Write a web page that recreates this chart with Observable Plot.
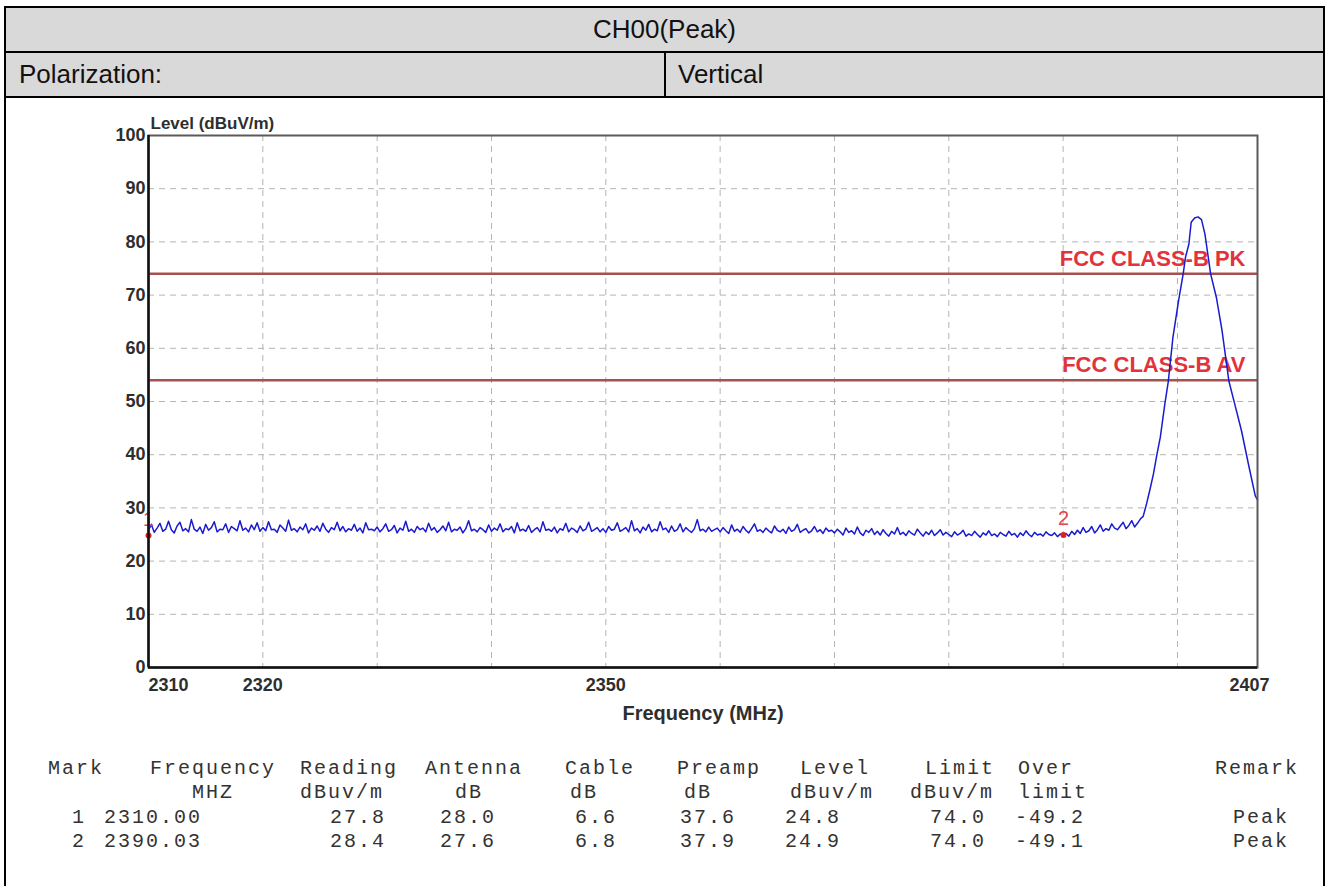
<!DOCTYPE html>
<html><head><meta charset="utf-8">
<script src="https://cdn.jsdelivr.net/npm/d3@7"></script>
<script src="https://cdn.jsdelivr.net/npm/@observablehq/plot@0.6"></script>
<style>
body{margin:0;background:#fff;font-family:"Liberation Sans",Arial,sans-serif;}
#box{position:absolute;left:4px;top:6px;width:1321px;height:900px;border:2px solid #000;box-sizing:border-box;}
.row{position:absolute;left:0;right:0;background:#d9d9d9;border-bottom:2px solid #000;box-sizing:border-box;font-size:26px;color:#111;}
#r1{top:0;height:45px;display:flex;align-items:center;justify-content:center;}
#r2{top:45px;height:45px;}
#r2 .c1{position:absolute;left:0;top:0;bottom:0;width:660px;border-right:2px solid #000;display:flex;align-items:center;padding-left:13px;box-sizing:border-box;}
#r2 .c2{position:absolute;left:672px;top:0;bottom:0;display:flex;align-items:center;}
#chart{position:absolute;left:0;top:97px;}
.cell{position:absolute;font-family:"Liberation Mono","Courier New",monospace;font-size:20px;letter-spacing:2px;color:#333;white-space:pre;line-height:20px;}
</style>
</head><body>
<div id="box">
  <div class="row" id="r1"></div>
  <div class="row" id="r2"><div class="c1"></div><div class="c2"></div></div>
</div>
<div id="chart"></div>
<div id="table"></div>
<script>
// ---- header texts ----
const titleText = "CH00(Peak)";
const polLabel = "Polarization:";
const polValue = "Vertical";

// ---- axes ----
const xDomain = [2310, 2407];
const yDomain = [0, 100];
const xTickLabels = [2310, 2320, 2350, 2407];
const yTickLabels = [0, 10, 20, 30, 40, 50, 60, 70, 80, 90, 100];
const gridFreqs = [2320, 2330, 2340, 2350, 2360, 2370, 2380, 2390, 2400];
const gridLevels = [10, 20, 30, 40, 50, 60, 70, 80, 90];
const xAxisLabel = "Frequency (MHz)";
const yAxisLabel = "Level (dBuV/m)";

// ---- limit lines ----
const limitLevels = [74, 54];
const limitLabels = ["FCC CLASS-B PK", "FCC CLASS-B AV"];

// ---- trace: noise floor, 0.25 MHz steps from 2310.00 to 2397.00 ----
const noiseStart = 2310;
const noiseStep = 0.25;
const noiseLevels = [
  // 2310-2320
  25.8, 26.9, 25.4, 26.2, 27.1, 25.6, 26.0, 27.5, 25.9, 25.3, 26.6, 27.3, 25.7, 26.1, 25.5, 27.8, 26.0, 25.6, 26.4, 25.2,
  26.9, 25.8, 26.3, 27.4, 25.5, 26.0, 25.9, 27.0, 25.4, 26.5, 26.1, 25.7, 27.6, 25.8, 26.2, 25.5, 26.8, 25.9, 27.2, 25.6,
  // 2320-2330
  26.3, 25.7, 27.4, 25.9, 26.0, 25.4, 26.8, 26.2, 25.6, 27.7, 25.8, 26.1, 25.5, 26.4, 25.9, 27.0, 25.3, 26.2, 25.8, 26.6,
  25.6, 27.1, 26.0, 25.4, 26.3, 25.9, 27.3, 25.7, 26.5, 25.5, 26.1, 25.8, 26.9, 25.6, 26.2, 25.3, 27.2, 25.9, 26.0, 25.7,
  // 2330-2340
  26.4, 25.5, 26.1, 27.0, 25.6, 25.9, 26.7, 25.3, 26.2, 25.8, 27.5, 25.6, 26.0, 25.4, 26.5, 25.9, 26.2, 25.5, 27.1, 25.8,
  26.3, 25.4, 25.9, 26.6, 25.7, 27.3, 25.5, 26.0, 25.8, 26.4, 25.3, 26.1, 27.6, 25.7, 26.0, 25.5, 26.3, 25.9, 25.4, 26.8,
  // 2340-2350
  25.6, 26.2, 25.8, 27.0, 25.5, 26.1, 25.9, 26.5, 25.3, 27.2, 25.7, 26.0, 25.6, 26.7, 25.4, 25.9, 26.3, 25.5, 27.4, 25.8,
  26.0, 25.6, 26.4, 25.3, 26.1, 25.8, 27.1, 25.5, 26.2, 25.9, 25.4, 26.6, 25.7, 26.0, 27.3, 25.6, 25.9, 26.3, 25.5, 26.1,
  // 2350-2360
  25.4, 26.5, 25.8, 26.0, 27.2, 25.6, 25.9, 26.3, 25.5, 27.6, 25.7, 26.1, 25.3, 26.4, 25.8, 26.9, 25.5, 26.0, 25.7, 27.4,
  25.9, 26.2, 25.4, 26.6, 25.6, 25.9, 27.0, 25.5, 26.3, 25.8, 25.4, 26.1, 27.8, 25.7, 26.0, 25.5, 26.4, 25.6, 25.9, 26.2,
  // 2360-2370
  25.5, 26.3, 25.7, 25.2, 26.8, 25.6, 26.0, 25.4, 26.5, 25.8, 25.3, 26.1, 27.0, 25.6, 25.9, 25.4, 26.2, 25.7, 25.3, 26.6,
  25.8, 25.5, 26.0, 25.2, 26.4, 25.6, 25.9, 26.9, 25.4, 25.8, 26.1, 25.3, 25.7, 26.5, 25.5, 25.9, 25.2, 26.2, 25.6, 25.8,
  // 2370-2380
  25.3, 26.0, 25.5, 24.9, 26.2, 25.4, 25.7, 25.1, 26.4, 25.3, 24.8, 25.8, 25.4, 26.1, 25.0, 25.6, 24.9, 25.9, 25.2, 24.7,
  25.6, 25.1, 26.3, 25.0, 25.4, 24.8, 25.7, 25.2, 24.9, 26.0, 25.3, 24.7, 25.5, 25.0, 25.8, 24.8, 25.3, 25.9, 24.9, 25.4,
  // 2380-2390
  25.0, 24.6, 25.5, 24.9, 25.2, 25.8, 24.7, 25.1, 24.8, 25.6, 25.0, 24.5, 25.3, 24.9, 25.7, 24.8, 25.1, 24.6, 25.4, 25.0,
  24.7, 25.6, 24.9, 25.2, 24.5, 25.3, 24.8, 25.7, 25.0, 24.6, 25.4, 24.9, 25.1, 24.7, 25.5, 25.0, 24.8, 25.3, 24.6, 25.1,
  // 2390-2397
  24.9, 25.2, 24.7, 25.6, 25.0, 25.8, 25.2, 26.3, 25.4, 25.7, 26.5, 25.3, 25.9, 26.8, 25.6, 26.1, 25.8, 27.0, 26.2, 25.9,
  26.6, 27.3, 26.1, 26.7, 27.6, 26.4, 27.1, 27.9, 28.4
];
// ---- trace: carrier peak ----
const peakFreqs = [2397.3, 2397.6, 2397.9, 2398.2, 2398.5, 2398.9, 2399.2, 2399.6, 2400.1, 2400.5, 2400.7, 2401.0, 2401.2,
  2401.5, 2401.8, 2402.1, 2402.4, 2402.9, 2403.4, 2403.9, 2404.5, 2405.0, 2405.6, 2406.2, 2406.8, 2407.0];
const peakLevels = [30.8, 33.5, 36.4, 40.0, 43.3, 49.6, 53.8, 62.0, 69.0, 74.0, 77.1, 79.6, 83.7,
  84.5, 84.7, 84.2, 81.5, 74.0, 69.6, 63.3, 53.8, 49.6, 44.5, 38.3, 32.3, 31.5];

// ---- result table ----
const tableHead1 = ["Mark", "Frequency", "Reading", "Antenna", "Cable", "Preamp", "Level", "Limit", "Over", "Remark"];
const tableHead2 = ["MHZ", "dBuv/m", "dB", "dB", "dB", "dBuv/m", "dBuv/m", "limit"];
const tableRows = [
  ["1", "2310.00", "27.8", "28.0", "6.6", "37.6", "24.8", "74.0", "-49.2", "Peak"],
  ["2", "2390.03", "28.4", "27.6", "6.8", "37.9", "24.9", "74.0", "-49.1", "Peak"]
];

// ---- layout (positions only) ----
const head1X = [48, 150, 300, 425, 565, 677, 800, 925, 1018, 1215];
const head2X = [192, 300, 455, 570, 684, 790, 910, 1018];
const rowX = [72, 104, 330, 440, 575, 680, 785, 930, 1015, 1233];
const tableRowY = [769, 793, 818, 842];

// header
document.getElementById("r1").textContent = titleText;
document.querySelector("#r2 .c1").textContent = polLabel;
document.querySelector("#r2 .c2").textContent = polValue;

// data build
const trace = noiseLevels.map((v, i) => ({f: noiseStart + i * noiseStep, v}))
  .concat(peakFreqs.map((f, i) => ({f, v: peakLevels[i]})));
const markers = tableRows.map(r => ({mark: r[0], f: +r[1], v: +r[6]}));

const font = "Liberation Sans, Arial, sans-serif";
const tickCol = "#2e2e2e";

const plot = Plot.plot({
  width: 1333, height: 640,
  marginLeft: 148, marginRight: 76, marginTop: 38, marginBottom: 70,
  x: {domain: xDomain, axis: null},
  y: {domain: yDomain, axis: null},
  style: {background: "transparent", fontFamily: font, overflow: "visible"},
  marks: [
    Plot.ruleX(gridFreqs, {x: d => d, stroke: "#b4b4b4", strokeWidth: 1, strokeDasharray: "6,5"}),
    Plot.ruleY(gridLevels, {y: d => d, stroke: "#b4b4b4", strokeWidth: 1, strokeDasharray: "6,5"}),
    Plot.ruleY(limitLevels, {y: d => d, stroke: "#a5524e", strokeWidth: 2.4}),
    Plot.text(limitLevels, {y: d => d, text: (d, i) => limitLabels[i], frameAnchor: "right", textAnchor: "end",
      dx: -12, dy: -15, fill: "#e2333b", fontWeight: "bold", fontSize: 22}),
    Plot.line(trace, {x: "f", y: "v", stroke: "#1a1ad0", strokeWidth: 1.5}),
    Plot.dot(markers, {x: "f", y: "v", r: 3, fill: "#e02020", stroke: "none"}),
    Plot.text(markers, {x: "f", y: "v", text: "mark", dy: -16, fill: "#e04848", fontSize: 20}),
    Plot.frame({stroke: "#5a5a5a", strokeWidth: 2}),
    Plot.ruleX([xDomain[0]], {x: d => d, stroke: "#111", strokeWidth: 2.5}),
    Plot.ruleY([yDomain[0]], {y: d => d, stroke: "#111", strokeWidth: 2.5}),
    // y tick labels
    Plot.text(yTickLabels, {y: d => d, text: d => String(d), frameAnchor: "left", textAnchor: "end", dx: -3,
      fill: tickCol, fontWeight: "bold", fontSize: 18}),
    // x tick labels
    Plot.text(xTickLabels.slice(0, 1), {x: d => d, text: d => String(d), frameAnchor: "bottom", textAnchor: "start",
      dy: 23, fill: tickCol, fontWeight: "bold", fontSize: 18}),
    Plot.text(xTickLabels.slice(1, -1), {x: d => d, text: d => String(d), frameAnchor: "bottom",
      dy: 23, fill: tickCol, fontWeight: "bold", fontSize: 18}),
    Plot.text(xTickLabels.slice(-1), {x: d => d, text: d => String(d), frameAnchor: "bottom",
      dx: -8, dy: 23, fill: tickCol, fontWeight: "bold", fontSize: 18}),
    // axis titles
    Plot.text([xAxisLabel], {text: d => d, frameAnchor: "bottom", dy: 52, fill: tickCol, fontWeight: "bold", fontSize: 20}),
    Plot.text([yAxisLabel], {text: d => d, frameAnchor: "top-left", textAnchor: "start", dx: 2, dy: -19,
      fill: tickCol, fontWeight: "bold", fontSize: 17})
  ]
});
document.getElementById("chart").appendChild(plot);

// table
const tbl = document.getElementById("table");
function addCells(texts, xs, y) {
  texts.forEach((t, i) => {
    const s = document.createElement("div");
    s.className = "cell";
    s.textContent = t;
    s.style.left = xs[i] + "px";
    s.style.top = (y - 10) + "px";
    tbl.appendChild(s);
  });
}
addCells(tableHead1, head1X, tableRowY[0]);
addCells(tableHead2, head2X, tableRowY[1]);
tableRows.forEach((r, k) => addCells(r, rowX, tableRowY[2 + k]));
</script>
</body></html>
